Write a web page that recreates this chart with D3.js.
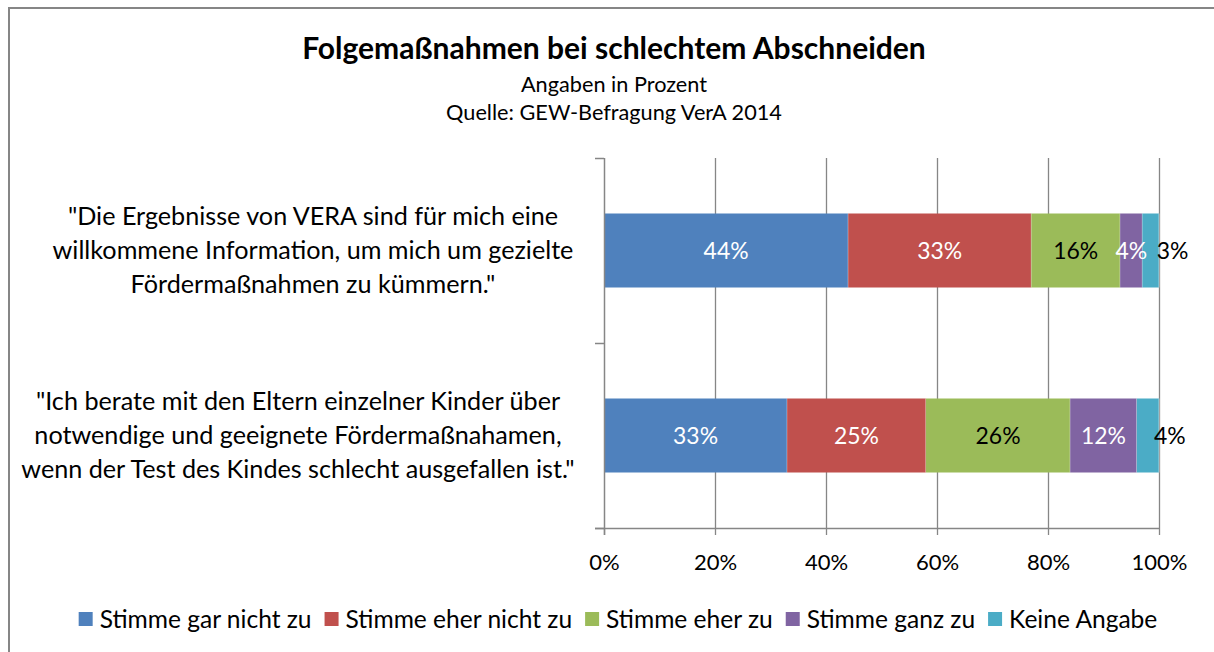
<!DOCTYPE html>
<html><head><meta charset="utf-8">
<script src="https://cdn.jsdelivr.net/npm/d3@7"></script>
<style>body{margin:0;background:#fff}svg{display:block}</style>
</head><body><svg id="c" width="1214" height="652"></svg>
<script>
// ---------- data ----------
const title = "Folgemaßnahmen bei schlechtem Abschneiden";
const subtitles = ["Angaben in Prozent", "Quelle: GEW-Befragung VerA 2014"];
const categories = ["A", "B"];
const categoryLines = [
  ["\"Die Ergebnisse von VERA sind für mich eine", "willkommene Information, um mich um gezielte", "Fördermaßnahmen zu kümmern.\""],
  ["\"Ich berate mit den Eltern einzelner Kinder über", "notwendige und geeignete Fördermaßnahamen,", "wenn der Test des Kindes schlecht ausgefallen ist.\""]
];
const seriesNames = ["Stimme gar nicht zu", "Stimme eher nicht zu", "Stimme eher zu", "Stimme ganz zu", "Keine Angabe"];
const stimmeGarNichtZu = [44, 33];
const stimmeEherNichtZu = [33, 25];
const stimmeEherZu = [16, 26];
const stimmeGanzZu = [4, 12];
const keineAngabe = [3, 4];
const tickValues = [0, 20, 40, 60, 80, 100];

// ---------- style ----------
const colors = ["#4F81BD", "#C0504D", "#9BBB59", "#8064A2", "#4BACC6"];
const labelColors = ["#fff", "#fff", "#000", "#fff", "#000"];
const FONT = "Lato, 'Noto Sans', sans-serif";
const AX = "#868686";

const svg = d3.select("#c");
svg.append("rect").attr("x", 9).attr("y", 8).attr("width", 1400).attr("height", 1000)
  .attr("fill", "#fff").attr("stroke", AX).attr("stroke-width", 2);

function measure(t, size, weight) {
  const el = svg.append("text").attr("font-family", FONT).attr("font-size", size)
    .attr("font-weight", weight || 400).text(t);
  const w = el.node().getComputedTextLength();
  el.remove();
  return w;
}
function fit(t, target, weight) { return 100 * target / measure(t, 100, weight); }

const titleSize = fit(title, 624, 700);
const subSize = fit(subtitles[1], 336, 400);
const labelSize = fit(categoryLines[0][1], 521, 400);
const tickSize = fit("100%", 56, 400);
const dataSize = fit("44%", 45, 400);
const legendSize = fit(seriesNames[0], 212, 400);

// ---------- titles ----------
svg.append("text").attr("x", 614).attr("y", 48).attr("dy", "0.35em").attr("text-anchor", "middle")
  .attr("font-family", FONT).attr("font-weight", 700).attr("font-size", titleSize).attr("fill", "#000").text(title);
svg.selectAll(".sub").data(subtitles).enter().append("text")
  .attr("x", 614).attr("y", (d, i) => 84 + i * 28).attr("dy", "0.35em").attr("text-anchor", "middle")
  .attr("font-family", FONT).attr("font-size", subSize).attr("fill", "#000").text(d => d);

// ---------- scales ----------
const x = d3.scaleLinear().domain([0, 100]).range([604, 1159]);
const y = d3.scaleBand().domain(categories).range([158, 528]).paddingInner(0.6).paddingOuter(0.3);

// gridlines
const g = svg.append("g");
g.selectAll(".grid").data(tickValues.slice(1)).enter().append("line")
  .attr("x1", d => Math.round(x(d)) + 0.5).attr("x2", d => Math.round(x(d)) + 0.5)
  .attr("y1", 158).attr("y2", 528).attr("stroke", AX).attr("stroke-width", 1.3);

// stacked bars
const rows = categories.map((c, i) => ({
  cat: c,
  s0: stimmeGarNichtZu[i], s1: stimmeEherNichtZu[i], s2: stimmeEherZu[i], s3: stimmeGanzZu[i], s4: keineAngabe[i]
}));
const keys = ["s0", "s1", "s2", "s3", "s4"];
const stacked = d3.stack().keys(keys)(rows);

const layers = svg.selectAll(".layer").data(stacked).enter().append("g").attr("fill", (d, i) => colors[i]);
layers.selectAll("rect").data(d => d).enter().append("rect")
  .attr("x", d => x(d[0])).attr("width", d => x(d[1]) - x(d[0]))
  .attr("y", d => y(d.data.cat)).attr("height", y.bandwidth());

// separators (thin white-ish line between segments)
layers.selectAll("line").data(d => d).enter().append("line")
  .attr("x1", d => x(d[1])).attr("x2", d => x(d[1]))
  .attr("y1", d => y(d.data.cat)).attr("y2", d => y(d.data.cat) + y.bandwidth())
  .attr("stroke", "#fff").attr("stroke-opacity", 0.5).attr("stroke-width", 1);

// data labels
stacked.forEach((layer, si) => {
  svg.selectAll(".lbl" + si).data(layer).enter().append("text")
    .attr("x", d => (x(d[0]) + x(d[1])) / 2 + (si === 4 ? 22 : 0))
    .attr("y", d => y(d.data.cat) + y.bandwidth() / 2).attr("dy", "0.35em")
    .attr("text-anchor", "middle").attr("font-family", FONT).attr("font-size", dataSize)
    .attr("fill", labelColors[si]).text(d => (d[1] - d[0]) + "%");
});

// axes
const xAxis = svg.append("g").attr("transform", "translate(0,528)")
  .call(d3.axisBottom(x).tickValues(tickValues).tickSize(7).tickSizeOuter(0).tickFormat(d => d + "%"));
xAxis.select(".domain").remove();
xAxis.selectAll(".tick line").attr("stroke", AX).attr("stroke-width", 1.3);
xAxis.selectAll(".tick text").attr("y", 34).attr("dy", "0.35em")
  .attr("font-family", FONT).attr("font-size", tickSize).attr("fill", "#000");
svg.append("line").attr("x1", 595).attr("x2", 1159).attr("y1", 528.5).attr("y2", 528.5)
  .attr("stroke", AX).attr("stroke-width", 1.5);
svg.append("line").attr("x1", 604.5).attr("x2", 604.5).attr("y1", 158).attr("y2", 535)
  .attr("stroke", AX).attr("stroke-width", 1.5);
const bounds = d3.range(categories.length + 1).map(i => 158 + i * y.step() / 1);
svg.selectAll(".ytick").data([158, 158 + (528 - 158) / 2, 528]).enter().append("line")
  .attr("x1", 595).attr("x2", 604).attr("y1", d => Math.round(d) + 0.5).attr("y2", d => Math.round(d) + 0.5)
  .attr("stroke", AX).attr("stroke-width", 1.5);

// category labels
const labelCenters = [313, 298];
categoryLines.forEach((lines, ci) => {
  const cy = y(categories[ci]) + y.bandwidth() / 2;
  svg.selectAll(".cl" + ci).data(lines).enter().append("text")
    .attr("x", labelCenters[ci]).attr("y", (d, i) => cy + (i - 1) * 34).attr("dy", "0.35em")
    .attr("text-anchor", "middle").attr("font-family", FONT).attr("font-size", labelSize)
    .attr("fill", "#000").text(d => d);
});

// legend
const lg = svg.append("g");
let lx = 0;
const items = [];
seriesNames.forEach((n, i) => {
  const w = measure(n, legendSize, 400);
  items.push({ n, i, x: lx, w });
  lx += 21 + w + 13;
});
const totalW = lx - 13;
const startX = 618 - totalW / 2;
items.forEach(it => {
  lg.append("rect").attr("x", startX + it.x).attr("y", 612).attr("width", 14).attr("height", 14).attr("fill", colors[it.i]);
  lg.append("text").attr("x", startX + it.x + 21).attr("y", 619).attr("dy", "0.35em")
    .attr("font-family", FONT).attr("font-size", legendSize).attr("fill", "#000").text(it.n);
});
</script>
</body></html>
